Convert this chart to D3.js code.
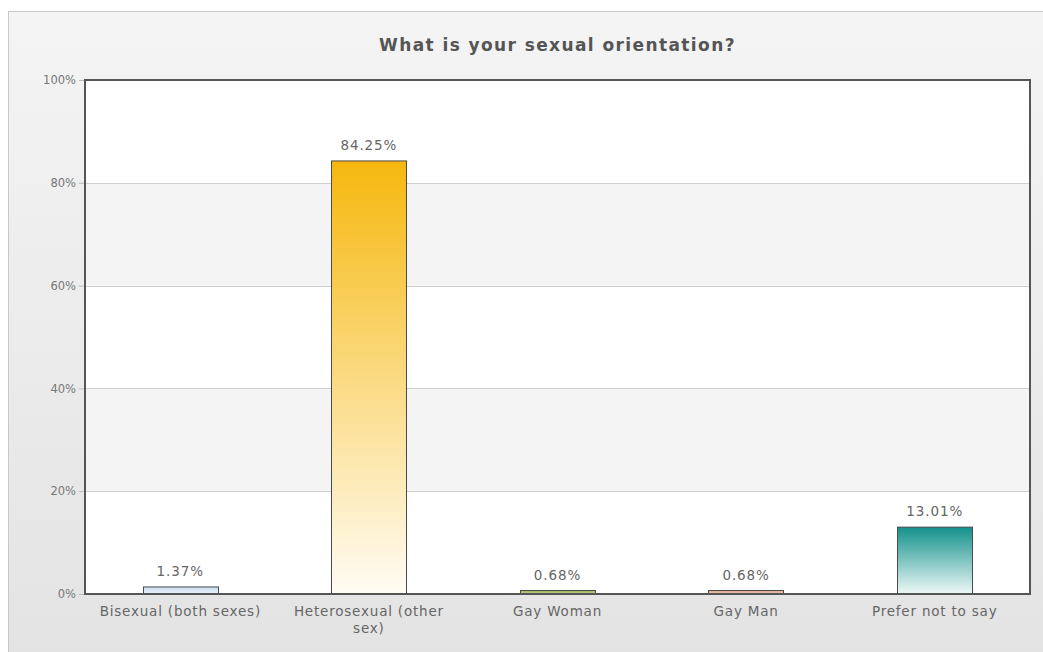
<!DOCTYPE html>
<html><head><meta charset="utf-8">
<script src="https://cdn.jsdelivr.net/npm/d3@7"></script>
<style>html,body{margin:0;padding:0;background:#fff;}svg{display:block;} text{font-family:"DejaVu Sans", sans-serif;}</style>
</head><body>
<svg id="c" width="1043" height="652"></svg>
<script>
const categories = ["Bisexual (both sexes)", "Heterosexual (other sex)", "Gay Woman", "Gay Man", "Prefer not to say"];
const values = [1.37, 84.25, 0.68, 0.68, 13.01];
const valueLabels = ["1.37%", "84.25%", "0.68%", "0.68%", "13.01%"];
const yTicks = [0, 20, 40, 60, 80, 100];
const title = "What is your sexual orientation?";
const barColors = [
  ["#c9dcf0", "#e8f1fa"],
  ["#f6b80e", "#fffcf4"],
  ["#9bb35c", "#c3d38f"],
  ["#e2a68a", "#f2cdb9"],
  ["#13918b", "#eef8f7"]
];

const svg = d3.select("#c");
const W = 1043, H = 652;
const defs = svg.append("defs");
const bg = defs.append("linearGradient").attr("id","bg").attr("x1",0).attr("y1",0).attr("x2",0).attr("y2",1);
bg.append("stop").attr("offset","0%").attr("stop-color","#f4f4f4");
bg.append("stop").attr("offset","100%").attr("stop-color","#e3e3e3");
barColors.forEach((c,i)=>{
  const g = defs.append("linearGradient").attr("id","g"+i).attr("x1",0).attr("y1",0).attr("x2",0).attr("y2",1);
  g.append("stop").attr("offset","0%").attr("stop-color",c[0]);
  g.append("stop").attr("offset","100%").attr("stop-color",c[1]);
});

svg.append("rect").attr("x",8.5).attr("y",11.5).attr("width",W).attr("height",H)
  .attr("fill","url(#bg)").attr("stroke","#c8c8c8").attr("stroke-width",1);

const m = {left:85, right:1030, top:80, bottom:594};
const x = d3.scaleBand().domain(categories).range([86,1029]).paddingInner(0.6).paddingOuter(0.3);
const y = d3.scaleLinear().domain([0,100]).range([m.bottom, m.top]);

svg.append("rect").attr("x",m.left).attr("y",m.top).attr("width",m.right-m.left).attr("height",m.bottom-m.top).attr("fill","#fff");
for (let i=0;i<yTicks.length-1;i++){
  if (i%2===1){
    svg.append("rect").attr("x",m.left).attr("width",m.right-m.left)
      .attr("y",y(yTicks[i+1])).attr("height",y(yTicks[i])-y(yTicks[i+1])).attr("fill","#f4f4f4");
  }
}
svg.append("g").selectAll("line").data(yTicks.slice(1,-1)).join("line")
  .attr("x1",m.left).attr("x2",m.right).attr("y1",d=>Math.round(y(d))+0.5).attr("y2",d=>Math.round(y(d))+0.5)
  .attr("stroke","#cfcfcf").attr("stroke-width",1);

const FF = "'DejaVu Sans', sans-serif";
const yAxis = d3.axisLeft(y).tickValues(yTicks).tickFormat(d=>d+"%").tickSize(6).tickPadding(3);
const ga = svg.append("g").attr("transform",`translate(${m.left},0)`).call(yAxis);
ga.select(".domain").remove();
ga.selectAll("line").attr("stroke","#bbb");
ga.selectAll("text").attr("fill","#777").attr("font-family",FF).attr("font-size","11.5px");

svg.append("g").selectAll("rect").data(values).join("rect")
  .attr("x",(d,i)=>Math.round(x(categories[i]))+0.5)
  .attr("width",Math.round(x.bandwidth()))
  .attr("y",d=>y(d))
  .attr("height",d=>m.bottom-y(d))
  .attr("fill",(d,i)=>`url(#g${i})`)
  .attr("stroke","#4a4a4a").attr("stroke-width",1);

svg.append("g").selectAll("text").data(values).join("text")
  .attr("x",(d,i)=>x(categories[i])+x.bandwidth()/2)
  .attr("y",d=>y(d)-11)
  .attr("text-anchor","middle").attr("fill","#666")
  .attr("font-family",FF).attr("font-size","13.5px").attr("letter-spacing","0.9px")
  .text((d,i)=>valueLabels[i]);

svg.append("rect").attr("x",m.left).attr("y",m.top).attr("width",m.right-m.left).attr("height",m.bottom-m.top)
  .attr("fill","none").attr("stroke","#555").attr("stroke-width",2);

const xg = svg.append("g").attr("transform",`translate(0,${m.bottom})`).call(d3.axisBottom(x).tickSize(0).tickPadding(12));
xg.select(".domain").remove();
xg.selectAll("text").attr("fill","#666").attr("font-family",FF).attr("font-size","13.5px").attr("letter-spacing","0.8px");
function wrap(sel, width){
  sel.each(function(){
    const t = d3.select(this);
    const words = t.text().split(/\s+/);
    const yy = t.attr("y"), dy = parseFloat(t.attr("dy"));
    t.text(null);
    let line=[], ln=0;
    let ts = t.append("tspan").attr("x",0).attr("y",yy).attr("dy",dy+"em");
    words.forEach(w=>{
      line.push(w); ts.text(line.join(" "));
      if (ts.node().getComputedTextLength()>width && line.length>1){
        line.pop(); ts.text(line.join(" ")); line=[w];
        ts = t.append("tspan").attr("x",0).attr("y",yy).attr("dy",(++ln*1.3+dy)+"em").text(w);
      }
    });
  });
}
xg.selectAll("text").call(wrap, 175);

svg.append("text").attr("x",(m.left+m.right)/2).attr("y",51).attr("text-anchor","middle")
  .attr("fill","#555").attr("font-family",FF).attr("font-size","17px").attr("font-weight","bold").attr("letter-spacing","1.4px")
  .text(title);
</script>
</body></html>
